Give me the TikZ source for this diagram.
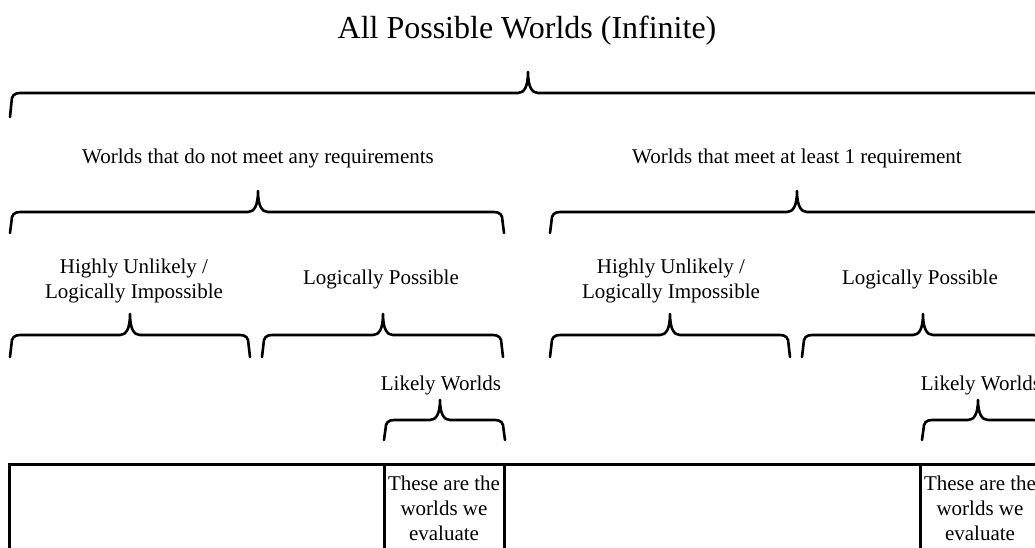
\documentclass[tikz,border=0pt]{standalone}
\usepackage{fontspec}
\setmainfont{Liberation Serif}
\newcommand{\wbrace}[6]{%
  \draw[bracestyle] (#1,#4) -- (#1+1.5,#5+9) .. controls (#1+1.5,#5+3) and (#1+4,#5) .. (#1+10,#5)
    -- (#3-10,#5) .. controls (#3-4,#5) and (#3,#5-6) .. (#3,#6)
    .. controls (#3,#5-6) and (#3+4,#5) .. (#3+10,#5)
    -- (#2-10,#5) .. controls (#2-4,#5) and (#2-1.5,#5+3) .. (#2-1.5,#5+9) -- (#2,#4);}
\begin{document}
\begin{tikzpicture}[x=1pt,y=-1pt,
  bracestyle/.style={line width=2.6pt,line join=round,line cap=round},
  boxline/.style={line width=3pt},
  lbl/.style={font=\fontsize{21}{25}\selectfont,inner sep=0pt,anchor=base,align=center},
  ttl/.style={font=\fontsize{32}{38}\selectfont,inner sep=0pt,anchor=base}]
\clip (0,0) rectangle (1035,548);
\fill[white] (0,0) rectangle (1035,548);
% title
\node[ttl] (title) at (527,39) {All Possible Worlds (Infinite)};
\wbrace{10}{1046}{528}{117}{93}{72}
% level 2
\node[lbl] (notmeet) at (258,164) {Worlds that do not meet any requirements};
\node[lbl] (meet) at (797,164) {Worlds that meet at least 1 requirement};
\wbrace{10}{504}{258}{233}{212}{191}
\wbrace{550}{1044}{797}{233}{212}{191}
% level 3 (base = last line)
\node[lbl] (hu1) at (134,298) {Highly Unlikely /\\Logically Impossible};
\node[lbl] (lp1) at (381,284) {Logically Possible};
\node[lbl] (hu2) at (671,298) {Highly Unlikely /\\Logically Impossible};
\node[lbl] (lp2) at (920,284) {Logically Possible};
\wbrace{10}{250}{130}{357}{335}{314}
\wbrace{262}{503}{383}{357}{335}{314}
\wbrace{550}{790}{670}{357}{335}{314}
\wbrace{802}{1043}{923}{357}{335}{314}
% level 4
\node[lbl] (lw1) at (441,390) {Likely Worlds};
\node[lbl] (lw2) at (981,390) {Likely Worlds};
\wbrace{384}{505}{440}{440}{420}{400}
\wbrace{922}{1043}{978}{440}{420}{400}
% bottom box
\draw[boxline] (9,560) -- (9,464) -- (1045,464);
\foreach \xx in {384,504,920,1040} \draw[boxline] (\xx,464) -- (\xx,560);
\node[lbl] (ev1) at (444,540) {These are the\\worlds we\\evaluate};
\node[lbl] (ev2) at (980,540) {These are the\\worlds we\\evaluate};
\end{tikzpicture}
\end{document}
